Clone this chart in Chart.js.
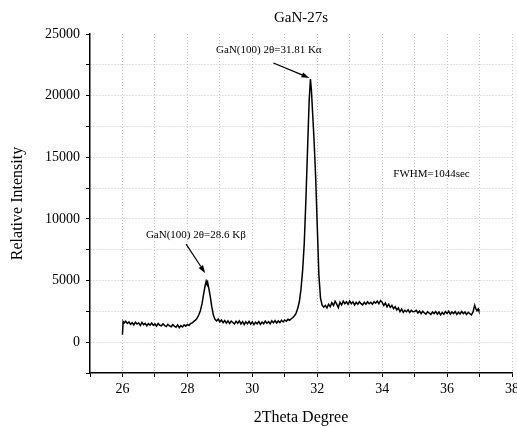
<!DOCTYPE html>
<html>
<head>
<meta charset="utf-8">
<script src="https://cdn.jsdelivr.net/npm/chart.js@4.4.1/dist/chart.umd.min.js"></script>
<style>
  html, body { margin: 0; padding: 0; background: #fff; overflow: hidden; }
  #wrap { width: 517px; height: 427px; }
</style>
</head>
<body>
<div id="wrap"><canvas id="xrdChart" width="517" height="427"></canvas></div>
<script>
"use strict";

// scan data
const twoTheta = [
  26.00, 26.02, 26.05, 26.10, 26.15, 26.20, 26.25, 26.30, 26.35, 26.40, 26.45, 26.50, 26.55, 26.60, 26.65, 26.70, 26.75, 26.80, 26.85, 26.90, 26.95,
  27.00, 27.05, 27.10, 27.15, 27.20, 27.25, 27.30, 27.35, 27.40, 27.45, 27.50, 27.55, 27.60, 27.65, 27.70, 27.75, 27.80, 27.85, 27.90, 27.95,
  28.00, 28.05, 28.10, 28.15, 28.20, 28.25, 28.30, 28.35, 28.40, 28.45, 28.50, 28.55, 28.58, 28.60, 28.62, 28.65, 28.70, 28.75, 28.80, 28.85, 28.90, 28.95,
  29.00, 29.05, 29.10, 29.15, 29.20, 29.25, 29.30, 29.35, 29.40, 29.45, 29.50, 29.55, 29.60, 29.65, 29.70, 29.75, 29.80, 29.85, 29.90, 29.95,
  30.00, 30.05, 30.10, 30.15, 30.20, 30.25, 30.30, 30.35, 30.40, 30.45, 30.50, 30.55, 30.60, 30.65, 30.70, 30.75, 30.80, 30.85, 30.90, 30.95,
  31.00, 31.05, 31.10, 31.15, 31.20, 31.25, 31.30, 31.35, 31.40, 31.45, 31.50, 31.55, 31.60, 31.65, 31.70, 31.75, 31.79, 31.82, 31.85, 31.90, 31.95,
  32.00, 32.05, 32.10, 32.15, 32.20, 32.25, 32.30, 32.35, 32.40, 32.45, 32.50, 32.55, 32.60, 32.65, 32.70, 32.75, 32.80, 32.85, 32.90, 32.95,
  33.00, 33.05, 33.10, 33.15, 33.20, 33.25, 33.30, 33.35, 33.40, 33.45, 33.50, 33.55, 33.60, 33.65, 33.70, 33.75, 33.80, 33.85, 33.90, 33.95,
  34.00, 34.05, 34.10, 34.15, 34.20, 34.25, 34.30, 34.35, 34.40, 34.45, 34.50, 34.55, 34.60, 34.65, 34.70, 34.75, 34.80, 34.85, 34.90, 34.95,
  35.00, 35.05, 35.10, 35.15, 35.20, 35.25, 35.30, 35.35, 35.40, 35.45, 35.50, 35.55, 35.60, 35.65, 35.70, 35.75, 35.80, 35.85, 35.90, 35.95,
  36.00, 36.05, 36.10, 36.15, 36.20, 36.25, 36.30, 36.35, 36.40, 36.45, 36.50, 36.55, 36.60, 36.65, 36.70, 36.75, 36.80, 36.85, 36.88, 36.92, 36.96, 36.98
];

const intensity = [
  600, 1680, 1560, 1700, 1520, 1640, 1450, 1580, 1400, 1620, 1480, 1560, 1350, 1600, 1420, 1530, 1330, 1500, 1380, 1560, 1360,
  1480, 1300, 1520, 1370, 1330, 1490, 1350, 1270, 1450, 1320, 1250, 1420, 1300, 1220, 1400, 1180, 1340, 1230, 1410, 1300,
  1440, 1360, 1520, 1560, 1690, 1780, 1950, 2200, 2550, 3100, 3900, 4650, 4950, 4800, 4900, 4500, 3800, 2900, 2200, 1850, 1720, 1880,
  1650, 1800, 1580, 1760, 1540, 1730, 1520, 1710, 1600, 1480, 1690, 1540, 1730, 1480, 1670, 1440, 1650, 1500, 1690, 1460,
  1640, 1420, 1620, 1490, 1670, 1440, 1630, 1500, 1710, 1530, 1670, 1490, 1730, 1570, 1750, 1550, 1720, 1590, 1780, 1640,
  1800, 1700, 1860, 1780, 1900, 2000, 2150, 2350, 2750, 3300, 4300, 5800, 8000, 11500, 15500, 19500, 21350, 20500, 19000, 16500, 13500,
  9500, 5500, 3600, 3000, 2850, 2980, 2780, 3080, 2880, 3200, 2980, 3320, 3080, 2800, 3230, 3020, 3330, 3120, 3280, 3070,
  3330, 3120, 3280, 3020, 3230, 3070, 3280, 3120, 3020, 3230, 3070, 3280, 3120, 3230, 3070, 3280, 3170, 3330, 3120, 3380,
  3230, 2980, 3180, 2870, 3080, 2820, 2980, 2720, 2880, 2620, 2780, 2470, 2680, 2420, 2580, 2470, 2630, 2420, 2580, 2470,
  2480, 2580, 2370, 2530, 2320, 2510, 2370, 2270, 2480, 2350, 2250, 2450, 2320, 2490, 2270, 2450, 2220, 2410, 2270, 2480,
  2320, 2510, 2270, 2450, 2320, 2480, 2250, 2430, 2290, 2480, 2320, 2450, 2250, 2430, 2320, 2220, 2450, 3000, 2750, 2550, 2700, 2550
];

// axis ranges and labelled ticks
const xRange = [25, 38];
const yRange = [-2500, 25000];
const xLabelled = [26, 28, 30, 32, 34, 36, 38];
const yLabelled = [0, 5000, 10000, 15000, 20000, 25000];

// annotations: text, text anchor, arrow tail, arrow tip (data units)
const notes = [
  { text: "GaN(100) 2θ=31.81 Kα", at: [30.51, 23700], from: [30.65, 22650], to: [31.76, 21430] },
  { text: "GaN(100) 2θ=28.6 Kβ", at: [28.26, 8690], from: [27.96, 7950], to: [28.55, 5600] },
  { text: "FWHM=1044sec", at: [35.52, 13640] }
];

const points = twoTheta.map((x, i) => ({ x: x, y: intensity[i] }));

Chart.defaults.font.family = "'Liberation Serif', 'Times New Roman', serif";
Chart.defaults.color = "#000";

const notesPlugin = {
  id: "notes",
  afterDatasetsDraw(chart) {
    const ctx = chart.ctx;
    const xs = chart.scales.x;
    const ys = chart.scales.y;
    ctx.save();
    ctx.fillStyle = "#000";
    ctx.strokeStyle = "#000";
    ctx.font = "11px 'Liberation Serif', serif";
    ctx.textAlign = "center";
    ctx.textBaseline = "middle";
    notes.forEach((n) => {
      ctx.fillText(n.text, xs.getPixelForValue(n.at[0]), ys.getPixelForValue(n.at[1]));
      if (!n.from) return;
      const x1 = xs.getPixelForValue(n.from[0]);
      const y1 = ys.getPixelForValue(n.from[1]);
      const x2 = xs.getPixelForValue(n.to[0]);
      const y2 = ys.getPixelForValue(n.to[1]);
      const ang = Math.atan2(y2 - y1, x2 - x1);
      const hl = 8;
      const hw = 2.6;
      const bx = x2 - hl * Math.cos(ang);
      const by = y2 - hl * Math.sin(ang);
      ctx.lineWidth = 1.2;
      ctx.beginPath();
      ctx.moveTo(x1, y1);
      ctx.lineTo(bx, by);
      ctx.stroke();
      ctx.beginPath();
      ctx.moveTo(x2, y2);
      ctx.lineTo(bx + hw * Math.sin(ang), by - hw * Math.cos(ang));
      ctx.lineTo(bx - hw * Math.sin(ang), by + hw * Math.cos(ang));
      ctx.closePath();
      ctx.fill();
    });
    ctx.restore();
  },
};

const config = {
  type: "line",
  data: {
    datasets: [
      {
        data: points,
        borderColor: "#000",
        borderWidth: 1.5,
        pointRadius: 0,
        tension: 0,
        fill: false,
      },
    ],
  },
  options: {
    responsive: false,
    animation: false,
    layout: { padding: { left: 0, right: 5, top: 0, bottom: 0 } },
    plugins: {
      legend: { display: false },
      tooltip: { enabled: false },
      title: {
        display: true,
        text: "GaN-27s",
        fullSize: false,
        color: "#000",
        font: { size: 15, weight: "normal" },
        padding: { top: 9, bottom: 7 },
      },
    },
    scales: {
      x: {
        type: "linear",
        min: xRange[0],
        max: xRange[1],
        ticks: {
          stepSize: 1,
          autoSkip: false,
          maxRotation: 0,
          padding: 4,
          font: { size: 14 },
          callback: (v) => (xLabelled.includes(v) ? v : ""),
        },
        grid: {
          color: (c) => (c.tick && c.tick.value === xRange[0] ? "rgba(0,0,0,0)" : "#c4c4c4"),
          tickColor: "#000",
          tickLength: 4,
          tickWidth: 1,
        },
        border: { display: true, color: "#000", width: 1.5, dash: [1, 2] },
        title: {
          display: true,
          text: "2Theta Degree",
          font: { size: 16 },
          padding: { top: 0, bottom: 0 },
        },
        afterFit: (s) => {
          s.height = 54;
          s.paddingLeft = 0;
          s.paddingRight = 0;
        },
      },
      y: {
        min: yRange[0],
        max: yRange[1],
        ticks: {
          stepSize: 2500,
          autoSkip: false,
          padding: 6,
          font: { size: 14 },
          callback: (v) => (yLabelled.includes(v) ? v : ""),
        },
        grid: {
          color: (c) =>
            c.tick && (c.tick.value === yRange[1] || c.tick.value === yRange[0]) ? "rgba(0,0,0,0)" : "#c4c4c4",
          tickColor: "#000",
          tickLength: 4,
          tickWidth: 1,
        },
        border: { display: true, color: "#000", width: 1.5, dash: [1, 2] },
        title: {
          display: true,
          text: "Relative Intensity",
          font: { size: 16 },
          padding: { top: 8, bottom: 0 },
        },
        afterFit: (s) => {
          s.width = 90;
        },
      },
    },
  },
  plugins: [notesPlugin],
};

new Chart(document.getElementById("xrdChart"), config);
</script>
</body>
</html>
